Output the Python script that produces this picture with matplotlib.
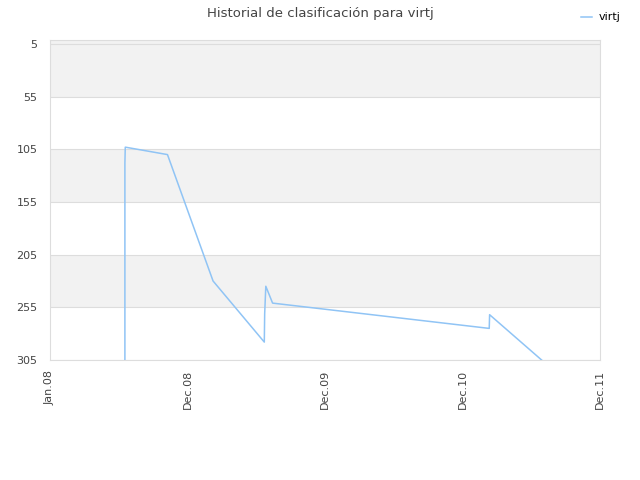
import numpy as np
import pandas as pd
import matplotlib
matplotlib.use("Agg")
import matplotlib.pyplot as plt
import matplotlib.dates as mdates

# datos de la serie (ranking, eje invertido)
fechas = ["2008-07-18", "2008-07-18", "2008-07-19", "2008-07-20", "2008-11-08",
          "2009-03-09", "2009-07-23", "2009-07-24", "2009-07-27", "2009-08-14",
          "2011-03-12", "2011-03-13", "2011-07-29", "2011-09-16"]
ranking = [320, 118, 103, 103, 110, 230, 288, 261, 235, 251, 275, 262, 305, 320]
serie = "virtj"

ticks_x = ["2008-01-01", "2008-12-31", "2009-12-31", "2010-12-31", "2011-12-31"]
etiquetas_x = ["Jan.08", "Dec.08", "Dec.09", "Dec.10", "Dec.11"]
ticks_y = [5, 55, 105, 155, 205, 255, 305]

fechas = pd.to_datetime(fechas)
ticks_x = pd.to_datetime(ticks_x)

fig = plt.figure(figsize=(6.4, 4.8), dpi=100)
ax = fig.add_axes([0.078, 0.25, 0.8595, 0.6667])

# bandas alternas de fondo
ax.axhspan(1, 55, color="#f2f2f2", zorder=0, lw=0)
ax.axhspan(105, 155, color="#f2f2f2", zorder=0, lw=0)
ax.axhspan(205, 255, color="#f2f2f2", zorder=0, lw=0)
for v in ticks_y:
    ax.axhline(v, color="#dddddd", lw=0.8, zorder=1)

ax.plot(fechas, ranking, color="#90c4f5", lw=1.1, label=serie, zorder=3)

ax.set_ylim(305, 1.2)
ax.set_xlim(ticks_x[0], ticks_x[-1])
ax.set_yticks(ticks_y)
ax.set_xticks(ticks_x)
ax.set_xticklabels(etiquetas_x, rotation=90)
ax.tick_params(length=0, labelsize=8, colors="#444444")
ax.tick_params(axis="y", pad=9)
ax.tick_params(axis="x", pad=7)
for s in ax.spines.values():
    s.set_color("#dddddd")

fig.suptitle("Historial de clasificación para virtj", x=0.5, y=0.985,
             fontsize=9.5, color="#444444")
fig.legend(loc="upper right", bbox_to_anchor=(0.985, 0.995), frameon=False,
           fontsize=8, handlelength=1.0, handletextpad=0.6)

fig.savefig("out.png", dpi=100)
